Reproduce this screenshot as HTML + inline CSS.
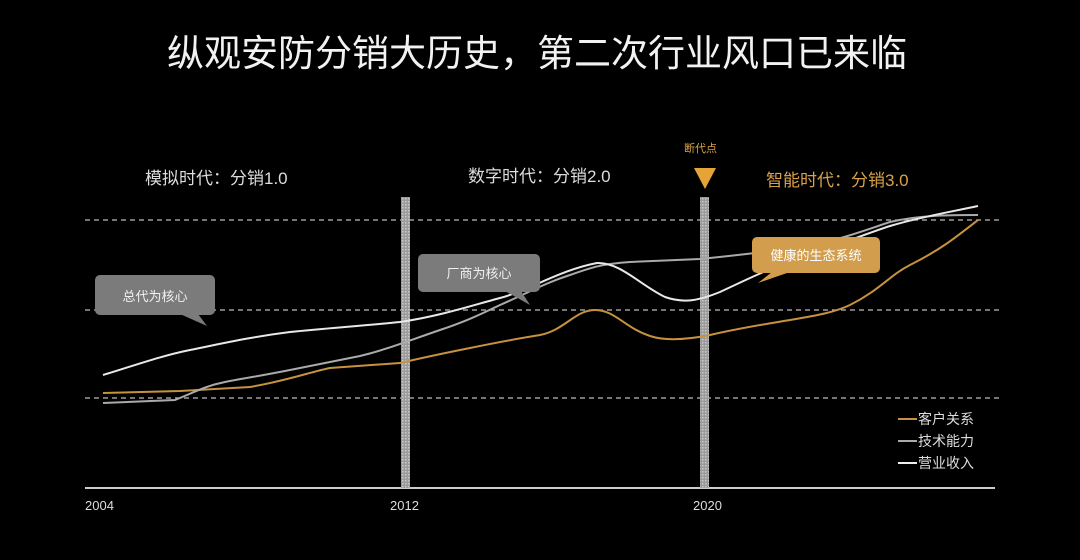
<!DOCTYPE html>
<html><head><meta charset="utf-8"><style>
body{margin:0;background:#000;}
svg{display:block;font-family:"Liberation Sans","Noto Sans CJK SC",sans-serif;}
</style></head><body>
<svg width="1080" height="560" viewBox="0 0 1080 560">
<defs><pattern id="dots" width="3" height="3" patternUnits="userSpaceOnUse"><rect width="3" height="3" fill="#9a9a9a"/><rect width="1.5" height="1.5" fill="#c8c8c8"/></pattern></defs>
<rect width="1080" height="560" fill="#000"/>
<text x="537" y="66" text-anchor="middle" fill="#f2f2f2" font-size="37">纵观安防分销大历史，第二次行业风口已来临</text>
<g stroke="#bbb" stroke-width="1.3" stroke-dasharray="5,4">
<line x1="85" y1="220" x2="1000" y2="220"/><line x1="85" y1="310" x2="1000" y2="310"/><line x1="85" y1="398" x2="1000" y2="398"/></g>
<line x1="85" y1="488" x2="995" y2="488" stroke="#ccc" stroke-width="2"/>
<rect x="401" y="197" width="9" height="291" fill="url(#dots)"/>
<rect x="700" y="197" width="9" height="291" fill="url(#dots)"/>
<text x="145" y="184" fill="#ddd" font-size="17">模拟时代：分销1.0</text>
<text x="468" y="182" fill="#ddd" font-size="17">数字时代：分销2.0</text>
<text x="766" y="186" fill="#d9a24a" font-size="17">智能时代：分销3.0</text>
<text x="684" y="152" fill="#d9a24a" font-size="11">断代点</text>
<polygon points="694,168 716,168 705,189" fill="#e5a437"/>
<path d="M103,393 L180,391 L250,387 C290,380 310,372 330,368 L400,363 C430,356 450,352 470,348 C500,342 520,338 540,335 C565,330 575,310 595,310 C615,310 625,328 650,336 C665,341 685,340 710,335 C740,328 760,325 790,320 C820,315 835,312 850,305 C880,290 890,275 910,265 C940,250 955,238 978,220" fill="none" stroke="#c6923f" stroke-width="2"/>
<path d="M103,403 L175,400 C195,392 205,386 225,382 C245,378 260,376 290,370 C320,364 340,360 360,356 C385,350 405,342 440,330 C470,320 485,312 500,305 C530,292 545,283 570,275 C590,268 600,264 630,262 L700,259 C730,256 760,253 800,247 C840,240 860,232 890,222 C920,215 950,215 978,215" fill="none" stroke="#aaa" stroke-width="2"/>
<path d="M103,375 C130,367 160,356 190,350 C220,344 250,337 290,332 C330,328 360,326 400,322 C440,316 470,306 500,298 C530,290 560,270 597,263 C620,262 640,285 665,297 C685,304 700,300 720,292 C750,278 770,268 800,258 C830,248 860,236 890,226 C920,217 950,212 978,206" fill="none" stroke="#e8e8e8" stroke-width="2"/>
<rect x="95" y="275" width="120" height="40" rx="5" fill="#7b7b7b"/>
<polygon points="180,314 198,314 207,326" fill="#7b7b7b"/>
<text x="155" y="301" text-anchor="middle" fill="#f0f0f0" font-size="13">总代为核心</text>
<rect x="418" y="254" width="122" height="38" rx="5" fill="#7b7b7b"/>
<polygon points="505,291 521,291 530,305" fill="#7b7b7b"/>
<text x="479" y="278" text-anchor="middle" fill="#f0f0f0" font-size="13">厂商为核心</text>
<rect x="752" y="237" width="128" height="36" rx="5" fill="#d29d4c"/>
<polygon points="772,272 790,272 758,283" fill="#d29d4c"/>
<text x="816" y="260" text-anchor="middle" fill="#fff" font-size="13">健康的生态系统</text>
<g font-size="14" fill="#ddd">
<line x1="898" y1="419" x2="917" y2="419" stroke="#c6923f" stroke-width="2"/><text x="918" y="424">客户关系</text>
<line x1="898" y1="441" x2="917" y2="441" stroke="#aaa" stroke-width="2"/><text x="918" y="446">技术能力</text>
<line x1="898" y1="463" x2="917" y2="463" stroke="#eee" stroke-width="2"/><text x="918" y="468">营业收入</text>
</g>
<g font-size="13" fill="#ddd"><text x="85" y="510">2004</text><text x="390" y="510">2012</text><text x="693" y="510">2020</text></g>
</svg>
</body></html>
